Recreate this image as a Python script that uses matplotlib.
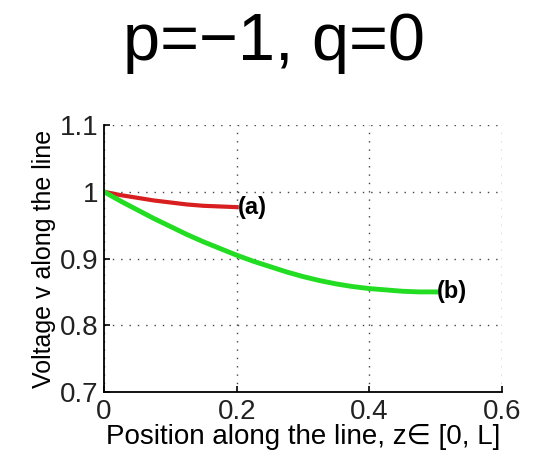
import matplotlib.pyplot as plt
import numpy as np

# DATA
z_a = [0.0, 0.025, 0.05, 0.075, 0.1, 0.125, 0.15, 0.175, 0.2]
v_a = [1.0, 0.995, 0.991, 0.987, 0.984, 0.981, 0.979, 0.978, 0.977]

z_b = [0.0, 0.025, 0.05, 0.075, 0.1, 0.125, 0.15, 0.175, 0.2, 0.225, 0.25,
       0.275, 0.3, 0.325, 0.35, 0.375, 0.4, 0.425, 0.45, 0.475, 0.5]
v_b = [1.0, 0.986, 0.973, 0.960, 0.948, 0.936, 0.925, 0.915, 0.905, 0.896, 0.888,
       0.880, 0.873, 0.867, 0.862, 0.858, 0.855, 0.853, 0.851, 0.850, 0.850]

xticks = [0, 0.2, 0.4, 0.6]
xticklabels = ['0', '0.2', '0.4', '0.6']
yticks = [0.7, 0.8, 0.9, 1.0, 1.1]
yticklabels = ['0.7', '0.8', '0.9', '1', '1.1']

plt.rcParams['font.family'] = ['Liberation Sans', 'DejaVu Sans']

fig = plt.figure(figsize=(5.45, 4.58), dpi=100)
ax = fig.add_axes([0.191, 0.144, 0.730, 0.583])

ax.plot(z_a, v_a, color='#d81e1e', lw=3)
ax.plot(z_b, v_b, color='#22dd22', lw=3.5)
ax.text(z_a[-1] + 0.002, v_a[-1], '(a)', fontsize=17, fontweight='bold', va='center', ha='left')
ax.text(z_b[-1] + 0.002, v_b[-1], '(b)', fontsize=17, fontweight='bold', va='center', ha='left')

ax.set_xlim(0, 0.6)
ax.set_ylim(0.7, 1.1)
ax.set_xticks(xticks)
ax.set_xticklabels(xticklabels)
ax.set_yticks(yticks)
ax.set_yticklabels(yticklabels)
ax.tick_params(direction='in', length=4, labelsize=20, width=1.2, labelcolor='#222222')
ax.tick_params(axis='x', pad=5)
ax.tick_params(axis='y', pad=4)
ax.grid(True, color='#444444', linestyle=(0, (1, 5)), linewidth=1)
for s in ['top', 'right']:
    ax.spines[s].set_visible(False)
for s in ['left', 'bottom']:
    ax.spines[s].set_linewidth(1.3)

ax.set_xlabel('Position along the line, z\u2208 [0, L]', fontsize=20, labelpad=-1)
ax.set_ylabel('Voltage v along the line', fontsize=18, labelpad=3)

fig.text(0.503, 0.869, 'p=\u22121, q=0', fontsize=48, ha='center', va='baseline')

fig.savefig('out.png', dpi=100)
